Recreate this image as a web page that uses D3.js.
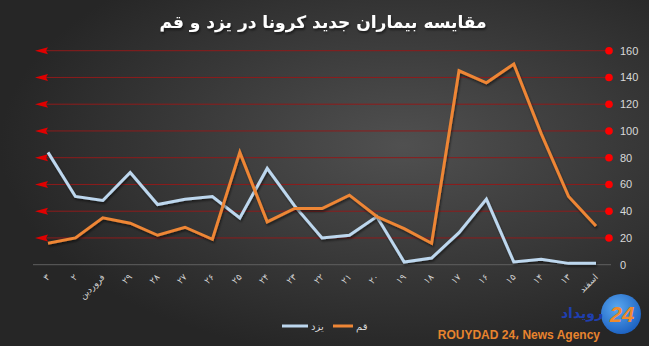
<!DOCTYPE html>
<html>
<head>
<meta charset="utf-8">
<script src="https://cdn.jsdelivr.net/npm/d3@7"></script>
<style>
  html, body { margin: 0; padding: 0; background: #2b2b2b; }
  svg { display: block; }
</style>
</head>
<body>
<div id="chart"></div>
<script>
const days = ["۳", "۲", "فروردین", "۲۹", "۲۸", "۲۷", "۲۶", "۲۵", "۲۴", "۲۳", "۲۲",
              "۲۱", "۲۰", "۱۹", "۱۸", "۱۷", "۱۶", "۱۵", "۱۴", "۱۳", "اسفند"];
const yazd = [84, 51, 48, 69, 45, 49, 51, 35, 72, 44, 20, 22, 36, 2, 5, 24, 49, 2, 4, 1, 1];
const qom = [16, 20, 35, 31, 22, 28, 19, 84, 32, 42, 42, 52, 36, 27, 16, 145, 136, 150, 98, 51, 29];
const yTicks = [0, 20, 40, 60, 80, 100, 120, 140, 160];

const width = 649;
const height = 346;
const svg = d3.select("#chart")
              .append("svg")
              .attr("width", width)
              .attr("height", height);

const defs = svg.append("defs");
const bg = defs.append("radialGradient")
               .attr("id", "bg")
               .attr("cx", "62%").attr("cy", "42%").attr("r", "62%");
bg.append("stop").attr("offset", "0%").attr("stop-color", "#505050");
bg.append("stop").attr("offset", "100%").attr("stop-color", "#262626");

const logo = defs.append("radialGradient").attr("id", "logo").attr("cx", "40%").attr("cy", "35%").attr("r", "70%");
logo.append("stop").attr("offset", "0%").attr("stop-color", "#5aa8f0");
logo.append("stop").attr("offset", "100%").attr("stop-color", "#1a5fc0");

const shadow = defs.append("filter").attr("id", "sh").attr("x", "-10%").attr("y", "-10%").attr("width", "120%").attr("height", "130%");
shadow.append("feDropShadow").attr("dx", 1).attr("dy", 2).attr("stdDeviation", 1.2)
      .attr("flood-color", "#000").attr("flood-opacity", 0.5);

svg.append("rect").attr("width", width).attr("height", height).attr("fill", "url(#bg)");

svg.append("text")
   .attr("x", 323).attr("y", 28)
   .attr("text-anchor", "middle")
   .attr("direction", "rtl")
   .attr("fill", "#ffffff")
   .attr("font-family", "DejaVu Sans, sans-serif")
   .attr("font-weight", "bold")
   .attr("font-size", 17)
   .attr("filter", "url(#sh)")
   .text("مقایسه بیماران جدید کرونا در یزد و قم");

const x = d3.scalePoint().domain(days).range([48, 596]);
const y = d3.scaleLinear().domain([0, 160]).range([264.7, 50.7]);

// red gridlines with arrows on the left and dots on the right
const grid = svg.append("g");
const gl = grid.selectAll("g").data(yTicks.filter(d => d > 0)).enter().append("g");
gl.append("line")
  .attr("x1", 40).attr("x2", 609)
  .attr("y1", d => y(d)).attr("y2", d => y(d))
  .attr("stroke", "#8e1b1b").attr("stroke-width", 1);
gl.append("path")
  .attr("d", d => `M35,${y(d)} L48,${y(d) - 3.5} L46,${y(d)} L48,${y(d) + 3.5} Z`)
  .attr("fill", "#e00000");
gl.append("circle")
  .attr("cx", 609).attr("cy", d => y(d)).attr("r", 3.8)
  .attr("fill", "#ff0000");

// zero baseline
svg.append("line")
   .attr("x1", 33).attr("x2", 611)
   .attr("y1", y(0)).attr("y2", y(0))
   .attr("stroke", "#5f5f5f").attr("stroke-width", 1);

// right axis
const yAxis = svg.append("g")
   .attr("transform", "translate(616,0)")
   .call(d3.axisRight(y).tickValues(yTicks).tickSize(0).tickPadding(4));
yAxis.select(".domain").remove();
yAxis.selectAll("text")
     .attr("fill", "#d9d9d9")
     .attr("font-family", "Liberation Sans, Arial, sans-serif")
     .attr("font-size", 11);

// bottom axis, rotated labels
const xAxis = svg.append("g")
   .attr("transform", `translate(0,${y(0)})`)
   .call(d3.axisBottom(x).tickSize(0).tickPadding(0));
xAxis.select(".domain").remove();
xAxis.selectAll("text")
     .attr("fill", "#d0d0d0")
     .attr("font-family", "DejaVu Sans, sans-serif")
     .attr("font-size", 9)
     .attr("text-anchor", "end")
     .attr("dy", 0)
     .attr("transform", "translate(2,13) rotate(-45)");

const line = d3.line().x((d, i) => x(days[i])).y(d => y(d));

svg.append("path")
   .datum(yazd)
   .attr("d", line)
   .attr("fill", "none")
   .attr("stroke", "#bdd7ee")
   .attr("stroke-width", 3)
   .attr("stroke-linejoin", "miter")
   .attr("filter", "url(#sh)");

svg.append("path")
   .datum(qom)
   .attr("d", line)
   .attr("fill", "none")
   .attr("stroke", "#ee8636")
   .attr("stroke-width", 3)
   .attr("stroke-linejoin", "miter")
   .attr("filter", "url(#sh)");

// legend
const legendItems = [
  { name: "یزد", color: "#bdd7ee", x: 282, len: 26 },
  { name: "قم", color: "#ee8636", x: 333, len: 20 }
];
const lg = svg.append("g").selectAll("g").data(legendItems).enter().append("g");
lg.append("line")
  .attr("x1", d => d.x).attr("x2", d => d.x + d.len)
  .attr("y1", 326).attr("y2", 326)
  .attr("stroke", d => d.color).attr("stroke-width", 3);
lg.append("text")
  .attr("x", d => d.x + d.len + 3).attr("y", 330)
  .attr("fill", "#d9d9d9")
  .attr("font-family", "DejaVu Sans, sans-serif")
  .attr("font-size", 10)
  .text(d => d.name);

// watermark
svg.append("circle").attr("cx", 621).attr("cy", 314).attr("r", 20).attr("fill", "url(#logo)");
svg.append("text")
   .attr("x", 622).attr("y", 322)
   .attr("text-anchor", "middle")
   .attr("fill", "#f08a2c")
   .attr("font-family", "Liberation Sans, Arial, sans-serif")
   .attr("font-weight", "bold").attr("font-style", "italic")
   .attr("font-size", 22)
   .text("24");
svg.append("text")
   .attr("x", 603).attr("y", 318)
   .attr("text-anchor", "end")
   .attr("fill", "#1f3fb0")
   .attr("font-family", "DejaVu Sans, sans-serif")
   .attr("font-weight", "bold")
   .attr("font-size", 14)
   .text("رویداد");
svg.append("text")
   .attr("x", 600).attr("y", 339)
   .attr("text-anchor", "end")
   .attr("fill", "#e8842e")
   .attr("font-family", "Liberation Sans, Arial, sans-serif")
   .attr("font-weight", "bold")
   .attr("font-size", 12)
   .text("ROUYDAD 24، News Agency");
</script>
</body>
</html>
